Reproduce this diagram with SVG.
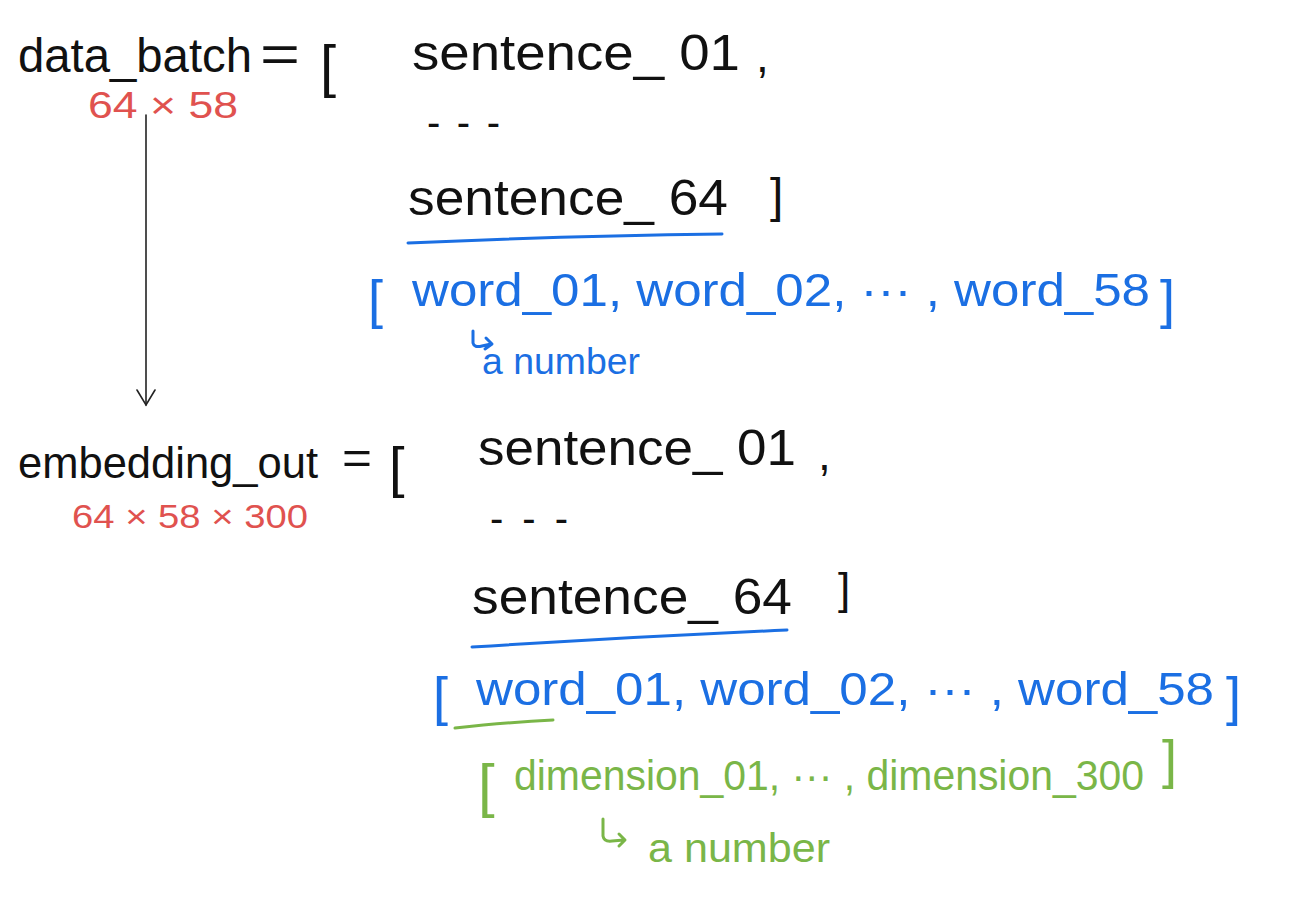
<svg xmlns="http://www.w3.org/2000/svg" width="1308" height="910" viewBox="0 0 1308 910">
<defs>
<style>
text{font-family:"Liberation Sans","DejaVu Sans",sans-serif;font-weight:normal}
.k{fill:#111}
.r{fill:#e0524f}
.b{fill:#1b6fe3}
.g{fill:#7ab648}
.ln{fill:none;stroke-linecap:round;stroke-linejoin:round}
.lk{stroke:#222;stroke-width:1.6}
.lb{stroke:#1b6fe3;stroke-width:3}
.lg{stroke:#7ab648;stroke-width:3}
</style>
<marker id="ah" viewBox="0 0 20 20" refX="18" refY="10" markerWidth="20" markerHeight="20" markerUnits="userSpaceOnUse" orient="auto">
<path d="M3,1 L18,10 L3,19" fill="none" stroke="#222" stroke-width="1.6" stroke-linecap="round"/>
</marker>
</defs>
<rect width="1308" height="910" fill="#ffffff"/>

<g id="data_batch">
<text class="k" x="18" y="72" font-size="48" textLength="234" lengthAdjust="spacingAndGlyphs">data_batch</text>
<text class="k" x="260" y="72" font-size="52" textLength="40" lengthAdjust="spacingAndGlyphs">=</text>
<text class="k" x="320" y="86" font-size="58">[</text>
<text class="r" x="88" y="118" font-size="36" textLength="150" lengthAdjust="spacingAndGlyphs">64 × 58</text>
</g>

<g id="batch_list">
<text class="k" x="412" y="70" font-size="50" textLength="328" lengthAdjust="spacingAndGlyphs">sentence_ 01</text>
<text class="k" x="756" y="72" font-size="46">,</text>
<text class="k" x="427" y="136" font-size="40" textLength="73" lengthAdjust="spacing">- - -</text>
<text class="k" x="408" y="215" font-size="50" textLength="320" lengthAdjust="spacingAndGlyphs">sentence_ 64</text>
<text class="k" x="770" y="212" font-size="48">]</text>
</g>

<g id="word_list_1">
<text class="b" x="368" y="318" font-size="54">[</text>
<text class="b" x="412" y="306" font-size="47" textLength="738" lengthAdjust="spacingAndGlyphs">word_01, word_02, ··· , word_58</text>
<text class="b" x="1160" y="318" font-size="54">]</text>
<text class="b" x="482" y="374" font-size="36" textLength="158" lengthAdjust="spacingAndGlyphs">a number</text>
</g>

<g id="embedding_out">
<text class="k" x="18" y="478" font-size="44" textLength="300" lengthAdjust="spacingAndGlyphs">embedding_out</text>
<text class="k" x="342" y="474" font-size="46" textLength="30" lengthAdjust="spacingAndGlyphs">=</text>
<text class="k" x="389" y="486" font-size="56">[</text>
<text class="r" x="72" y="528" font-size="34" textLength="236" lengthAdjust="spacingAndGlyphs">64 × 58 × 300</text>
</g>

<g id="embedding_list">
<text class="k" x="478" y="465" font-size="50" textLength="318" lengthAdjust="spacingAndGlyphs">sentence_ 01</text>
<text class="k" x="818" y="470" font-size="46">,</text>
<text class="k" x="490" y="532" font-size="40" textLength="78" lengthAdjust="spacing">- - -</text>
<text class="k" x="472" y="614" font-size="50" textLength="320" lengthAdjust="spacingAndGlyphs">sentence_ 64</text>
<text class="k" x="838" y="604" font-size="44">]</text>
</g>

<g id="word_list_2">
<text class="b" x="433" y="715" font-size="54">[</text>
<text class="b" x="476" y="705" font-size="47" textLength="738" lengthAdjust="spacingAndGlyphs">word_01, word_02, ··· , word_58</text>
<text class="b" x="1226" y="715" font-size="54">]</text>
</g>

<g id="dimension_list">
<text class="g" x="478" y="806" font-size="60">[</text>
<text class="g" x="514" y="790" font-size="42" textLength="630" lengthAdjust="spacingAndGlyphs">dimension_01, ··· , dimension_300</text>
<text class="g" x="1162" y="778" font-size="54">]</text>
<text class="g" x="648" y="862" font-size="40" textLength="182" lengthAdjust="spacingAndGlyphs">a number</text>
</g>

<g id="connectors">
<path class="ln lk" d="M146,115 L146,405" marker-end="url(#ah)"/>
<path class="ln lb" d="M408,243 Q560,236 722,234"/>
<path class="ln lb" d="M472,647 Q630,637 787,630"/>
<path class="ln lb" d="M473,331 L473,343 Q474,348 482,346 L491,344 M486,338 L492,344 L485,349" stroke-width="2.2"/>
<path class="ln lg" d="M455,728 Q510,722 553,720"/>
<path class="ln lg" d="M603,819 L603,836 Q604,842 612,841 L624,840 M619,834 L625,840 L619,846" stroke-width="2.2"/>
</g>
</svg>
